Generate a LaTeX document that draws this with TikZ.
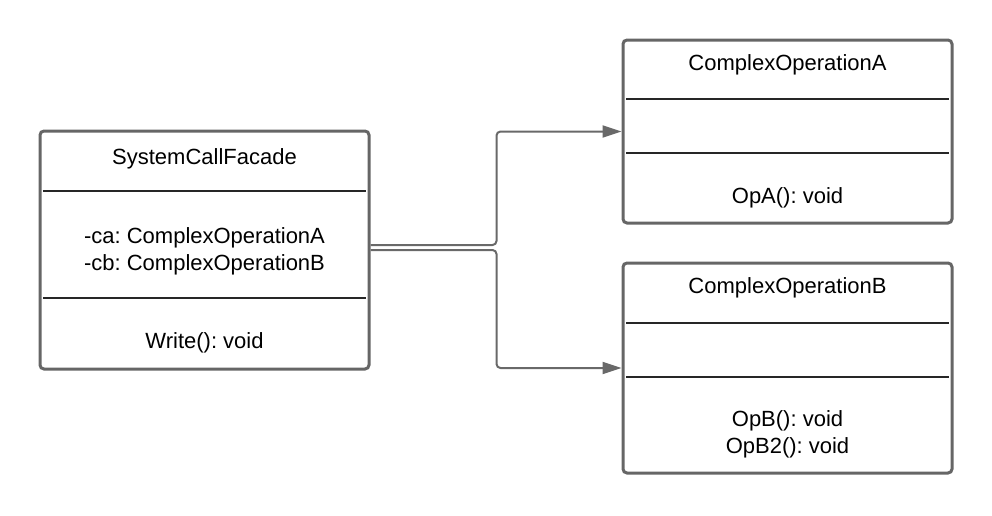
\documentclass[tikz,border=0pt]{standalone}
\usepackage{fontspec}
\setmainfont{Liberation Sans}
\frenchspacing
\usetikzlibrary{arrows.meta}
\definecolor{bordergray}{RGB}{102,102,102}
\definecolor{linegray}{RGB}{105,105,105}
\tikzset{
  classbox/.style={draw=bordergray, line width=3pt, rounded corners=4pt, rectangle, inner sep=0pt, fill=white},
  txt/.style={font=\fontsize{22}{27}\selectfont\frenchspacing, align=center, inner sep=0pt, text=black},
  divider/.style={draw=black!85, line width=1.2pt},
  conn/.style={draw=linegray, line width=2pt, rounded corners=4pt, -{Triangle[length=19pt,width=12pt]}},
}
\begin{document}
\begin{tikzpicture}[x=1pt,y=-1pt]
\useasboundingbox (0,0) rectangle (992,515);
% boxes
\node[classbox, minimum width=329pt, minimum height=238pt] (S) at (204.5,250) {};
\node[classbox, minimum width=329pt, minimum height=183pt] (A) at (787.5,131.5) {};
\node[classbox, minimum width=329pt, minimum height=210pt] (B) at (787.5,368) {};
% SystemCallFacade
\node[txt] (Stitle) at (204.5,159) {SystemCallFacade};
\coordinate (S1l) at (43,191); \coordinate (S1r) at (366,191);
\draw[divider] (S1l) -- (S1r);
\node[txt] (Sattr) at (204.5,251) {-ca: ComplexOperationA\\-cb: ComplexOperationB};
\coordinate (S2l) at (43,298); \coordinate (S2r) at (366,298);
\draw[divider] (S2l) -- (S2r);
\node[txt] (Sops) at (204.5,342.5) {Write(): void};
% ComplexOperationA
\node[txt] (Atitle) at (787.5,65) {ComplexOperationA};
\coordinate (A1l) at (626,99); \coordinate (A1r) at (949,99);
\draw[divider] (A1l) -- (A1r);
\coordinate (A2l) at (626,153); \coordinate (A2r) at (949,153);
\draw[divider] (A2l) -- (A2r);
\node[txt] (Aops) at (787.5,197.5) {OpA(): void};
% ComplexOperationB
\node[txt] (Btitle) at (787.5,288) {ComplexOperationB};
\coordinate (B1l) at (626,323); \coordinate (B1r) at (949,323);
\draw[divider] (B1l) -- (B1r);
\coordinate (B2l) at (626,377); \coordinate (B2r) at (949,377);
\draw[divider] (B2l) -- (B2r);
\node[txt] (Bops) at (787.5,434) {OpB(): void\\OpB2(): void};
% connectors
\draw[conn] ([yshift=5pt]S.east) -- ++(126,0) |- (A.west);
\draw[conn] (S.east) -- ++(126,0) |- (B.west);
\end{tikzpicture}
\end{document}
